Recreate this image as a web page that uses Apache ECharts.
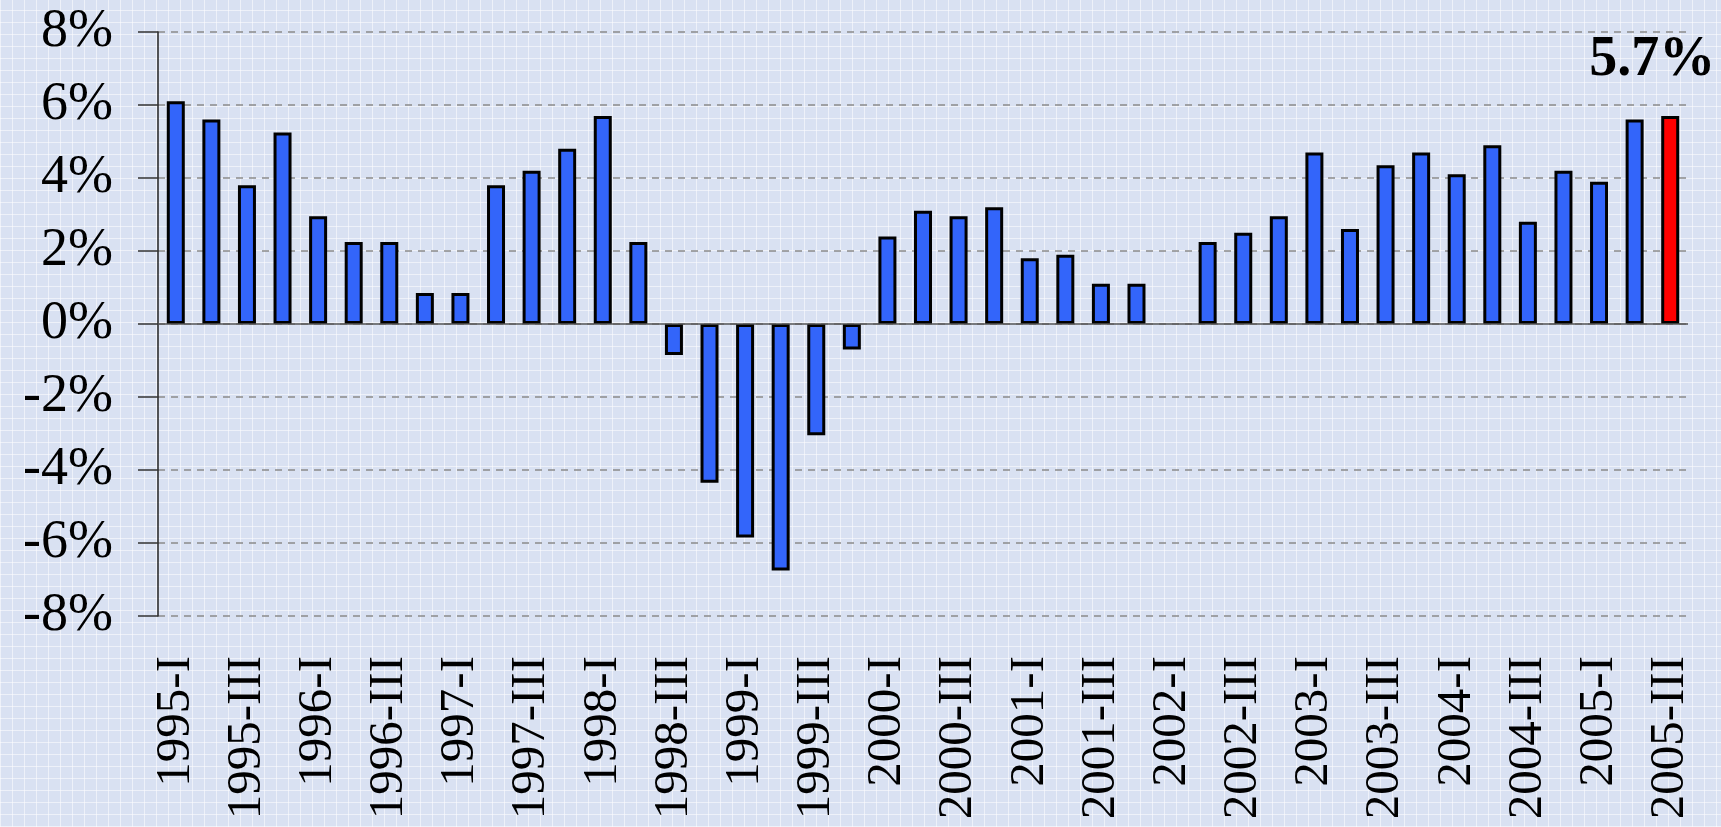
<!DOCTYPE html>
<html>
<head>
<meta charset="utf-8">
<script src="https://cdn.jsdelivr.net/npm/echarts@6/dist/echarts.min.js"></script>
<style>
  html, body { margin: 0; padding: 0; }
  body {
    width: 1721px; height: 827px; overflow: hidden;
    background-color: #d9e1f2;
    background-image:
      radial-gradient(ellipse 300px 500px at 1900px 900px, rgba(255,255,255,0.45), rgba(255,255,255,0) 70%),
      repeating-linear-gradient(90deg, rgba(255,255,255,0.55) 0 1px, transparent 1px 12px),
      repeating-linear-gradient(0deg, rgba(255,255,255,0.55) 0 1px, transparent 1px 12px);
  }
  #main { width: 1721px; height: 827px; }
</style>
</head>
<body>
<div id="main"></div>
<script>
// quarters, 1995-I .. 2005-III
var categories = [
  '1995-I', '1995-II', '1995-III', '1995-IV',
  '1996-I', '1996-II', '1996-III', '1996-IV',
  '1997-I', '1997-II', '1997-III', '1997-IV',
  '1998-I', '1998-II', '1998-III', '1998-IV',
  '1999-I', '1999-II', '1999-III', '1999-IV',
  '2000-I', '2000-II', '2000-III', '2000-IV',
  '2001-I', '2001-II', '2001-III', '2001-IV',
  '2002-I', '2002-II', '2002-III', '2002-IV',
  '2003-I', '2003-II', '2003-III', '2003-IV',
  '2004-I', '2004-II', '2004-III', '2004-IV',
  '2005-I', '2005-II', '2005-III'
];
var growth = [
  6.1, 5.6, 3.8, 5.25,
  2.95, 2.25, 2.25, 0.85,
  0.85, 3.8, 4.2, 4.8,
  5.7, 2.25, -0.85, -4.35,
  -5.85, -6.75, -3.05, -0.7,
  2.4, 3.1, 2.95, 3.2,
  1.8, 1.9, 1.1, 1.1,
  null, 2.25, 2.5, 2.95,
  4.7, 2.6, 4.35, 4.7,
  4.1, 4.9, 2.8, 4.2,
  3.9, 5.6, 5.7
];
var yTicks = [-8, -6, -4, -2, 0, 2, 4, 6, 8];

var serif = "'Liberation Serif', 'Times New Roman', serif";
var last = growth.length - 1;

var barData = growth.map(function (v, i) {
  if (i !== last) return v;
  return {
    value: v,
    itemStyle: { color: '#ff0000' },
    label: {
      show: true,
      position: 'top',
      distance: 27,
      offset: [-18, 0],
      formatter: '{c}%',
      fontFamily: serif,
      fontWeight: 'bold',
      fontSize: 56,
      color: '#000'
    }
  };
});

var myChart = echarts.init(document.getElementById('main'));
myChart.setOption({
  animation: false,
  grid: { left: 158, right: 33, top: 32, bottom: 211 },
  xAxis: {
    type: 'category',
    data: categories,
    axisLine: { show: false, onZero: false },
    axisTick: { show: false },
    axisLabel: {
      interval: 1,
      rotate: 90,
      margin: 40,
      fontFamily: serif,
      fontSize: 49,
      color: '#000'
    }
  },
  yAxis: {
    type: 'value',
    min: yTicks[0],
    max: yTicks[yTicks.length - 1],
    interval: 2,
    axisLine: { show: true, lineStyle: { color: '#222', width: 1.5 } },
    axisTick: { show: true, length: 20, lineStyle: { color: '#333', width: 1.5 } },
    axisLabel: {
      margin: 45,
      fontFamily: serif,
      fontSize: 54,
      color: '#000',
      formatter: '{value}%'
    },
    splitLine: { lineStyle: { color: '#8a8a8a', width: 1.5, type: [7, 6] } }
  },
  series: [{
    type: 'bar',
    data: barData,
    barWidth: 18,
    itemStyle: {
      color: '#3365fa',
      borderColor: '#000',
      borderWidth: 3
    },
    markLine: {
      silent: true,
      symbol: 'none',
      label: { show: false },
      lineStyle: { color: '#555', width: 1.5, type: 'solid' },
      data: [{ yAxis: 0 }]
    }
  }]
});
</script>
</body>
</html>
